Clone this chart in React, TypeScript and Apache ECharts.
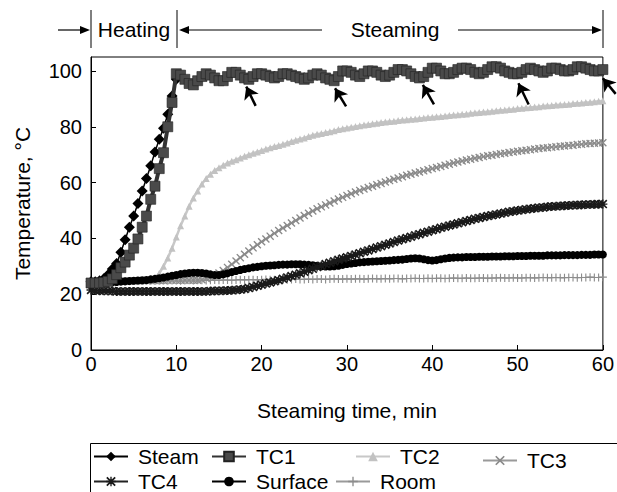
import React, { useEffect, useRef } from "react";
import * as echarts from "echarts";

// Sampling grid: every 0.5 min from 0 to 60 min
const STEP_MIN = 0.5;

const steamTemp = [24.5, 24.5, 24.8, 25.5, 27, 29, 31, 35, 39.5, 44, 48, 52.5, 57, 61.5, 66, 71, 75.5, 79.5, 84.5, 91, 97];

const tc1Temp = [
  24, 24, 24, 24.2, 24.6, 25.5, 27, 29.5, 31.5, 34, 36.5, 39.8, 44, 48, 54, 58.7, 65, 70.7, 80, 88.7, 99,
  98.5, 97, 95.5, 95, 96.5, 98, 99, 98.5, 97.5, 96.5, 96.5, 98, 99.5, 99.5, 98.5, 97.5, 97, 98, 99, 99,
  98.5, 98, 97.5, 98, 99, 99, 98.5, 98, 97.5, 97, 97.5, 98.5, 99, 98.5, 97.5, 97, 96.5, 98, 100, 100,
  99.5, 98.5, 98, 99, 100, 100, 99.5, 98.5, 98, 98.5, 99.5, 100.5, 100.5, 100, 99, 98, 97.5, 98, 99.5, 101,
  101, 100, 99, 99, 99.5, 100.5, 101, 101, 100.5, 99.5, 99, 99.5, 100.5, 101.5, 101.5, 101, 100, 99.5, 99, 99,
  99.5, 100.5, 101, 100.5, 100, 99.5, 100, 101, 101, 100.5, 100, 100, 100.5, 101.5, 101.5, 101, 100.5, 100, 100, 100.5,
];

const tc2Temp = [
  24.5, 24.5, 24.5, 24.5, 24.6, 24.6, 24.7, 24.7, 24.8, 24.8, 24.9, 25, 25, 25.2, 25.5,
  25.9, 27.5, 30, 33, 36.5, 40.5, 44.5, 48, 51.5, 54.5, 57, 59.5, 61.5, 63, 64.3, 65.3, 66.2, 67, 67.6, 68.2,
  68.8, 69.4, 70, 70.5, 71, 71.5, 72, 72.5, 72.9, 73.3, 73.7, 74.2, 74.7, 75.2, 75.6, 76, 76.5, 77, 77.3, 77.6,
  77.9, 78.2, 78.6, 79, 79.3, 79.6, 79.8, 80.1, 80.4, 80.6, 80.8, 81.1, 81.3, 81.5, 81.7, 81.9, 82, 82.2, 82.4, 82.5,
  82.7, 82.8, 83, 83.1, 83.3, 83.4, 83.6, 83.7, 83.9, 84, 84.2, 84.3, 84.5, 84.6, 84.8, 85, 85.1, 85.3, 85.4, 85.6,
  85.7, 85.9, 86, 86.2, 86.3, 86.5, 86.6, 86.8, 86.9, 87.1, 87.2, 87.4, 87.5, 87.6, 87.8, 87.9, 88, 88.1, 88.3, 88.4,
  88.5, 88.7, 88.8, 89, 89.1, 89.3,
];

const tc3Temp = [
  24.5, 24.5, 24.5, 24.5, 24.6, 24.6, 24.6, 24.7, 24.7, 24.7, 24.8, 24.8, 24.8, 24.8, 24.9, 24.9, 24.9, 24.9, 25, 25,
  25, 25, 25, 25, 25, 25,
  25.2, 25.6, 26.1, 26.8, 27.6, 28.5, 29.6, 30.7, 31.9, 33.1, 34.3, 35.5, 36.6, 37.7, 38.8, 39.8, 40.8, 41.8, 42.8, 43.7,
  44.6, 45.5, 46.4, 47.3, 48.2, 49, 49.8, 50.6, 51.3, 52, 52.7, 53.4, 54.1, 54.7, 55.4, 56, 56.6, 57.2, 57.7, 58.2,
  58.7, 59.2, 59.7, 60.2, 60.7, 61.2, 61.6, 62.1, 62.6, 63, 63.4, 63.8, 64.2, 64.6, 65, 65.4, 65.8, 66.2, 66.6, 67,
  67.4, 67.7, 68.1, 68.4, 68.7, 69, 69.3, 69.6, 69.8, 70.1, 70.3, 70.5, 70.8, 71, 71.2, 71.4, 71.6, 71.8, 72, 72.2,
  72.4, 72.5, 72.7, 72.8, 73, 73.1, 73.3, 73.4, 73.6, 73.7, 73.9, 74, 74.1, 74.2, 74.3,
];

const tc4Temp = [
  21.5, 21.3, 21.2, 21.2, 21.1, 21.1, 21, 21, 21, 21, 21, 21, 21, 21, 21, 21, 21, 21, 21, 21,
  21, 21, 21, 21, 21, 21, 21, 21, 21.1, 21.1, 21.2, 21.2, 21.3, 21.4, 21.5, 21.7,
  21.9, 22.2, 22.6, 23, 23.4, 23.8, 24.2, 24.6, 25, 25.5, 26, 26.5, 27, 27.5, 28, 28.6, 29.1, 29.7, 30.2, 30.8,
  31.3, 31.8, 32.3, 32.8, 33.2, 33.7, 34.2, 34.7, 35.2, 35.7, 36.2, 36.7, 37.2, 37.7, 38.2, 38.7, 39.2, 39.7, 40.1, 40.6,
  41.1, 41.5, 42, 42.4, 42.9, 43.3, 43.8, 44.2, 44.6, 45, 45.4, 45.8, 46.2, 46.6, 47, 47.3, 47.7, 48, 48.3, 48.6,
  48.9, 49.2, 49.5, 49.7, 50, 50.2, 50.4, 50.6, 50.8, 51, 51.1, 51.3, 51.4, 51.5, 51.6, 51.7, 51.8, 51.9, 52, 52,
  52.1, 52.1, 52.2, 52.2, 52.3,
];

const surfaceTemp = [
  24, 24, 24, 24.1, 24.2, 24.3, 24.4, 24.5, 24.6, 24.7, 24.8, 24.9, 25, 25.1, 25.3, 25.5, 25.7, 26, 26.3, 26.6,
  26.9, 27.2, 27.4, 27.6, 27.7, 27.7, 27.6, 27.4, 27.1, 26.9, 26.9, 27.1, 27.5, 27.9, 28.3, 28.7, 29, 29.3, 29.6, 29.8,
  30, 30.2, 30.3, 30.4, 30.5, 30.6, 30.6, 30.7, 30.7, 30.7, 30.6, 30.5, 30.4, 30.2, 30, 29.9, 29.9, 30, 30.2, 30.5,
  30.8, 31, 31.2, 31.4, 31.5, 31.6, 31.7, 31.8, 31.9, 32, 32.1, 32.2, 32.3, 32.4, 32.6, 32.8, 32.9, 32.8, 32.5, 32.2,
  32.1, 32.2, 32.5, 32.8, 33, 33.1, 33.2, 33.2, 33.3, 33.3, 33.3, 33.4, 33.4, 33.4, 33.5, 33.5, 33.5, 33.6, 33.6, 33.6,
  33.7, 33.7, 33.7, 33.8, 33.8, 33.8, 33.8, 33.9, 33.9, 33.9, 33.9, 34, 34, 34, 34, 34.1, 34.1, 34.1, 34.2, 34.2,
  34.2,
];

const roomTemp = [
  24.6, 24.6, 24.5, 24.6, 24.7, 24.6, 24.6, 24.7, 24.7, 24.6, 24.7, 24.8, 24.7, 24.8, 24.8, 24.7, 24.8, 24.9, 24.8, 24.9,
  24.9, 24.8, 24.9, 25, 24.9, 25, 25, 24.9, 25, 25.1,
  25, 25.1, 25.1, 25, 25.1, 25.2, 25.1, 25.2, 25.2, 25.1,
  25.2, 25.3, 25.2, 25.2, 25.3, 25.3, 25.2, 25.3, 25.4, 25.3,
  25.3, 25.4, 25.3, 25.4, 25.4, 25.3, 25.4, 25.5, 25.4, 25.4,
  25.5, 25.4, 25.5, 25.5, 25.4, 25.5, 25.6, 25.5, 25.5, 25.6,
  25.5, 25.6, 25.6, 25.5, 25.6, 25.6, 25.7, 25.6, 25.6, 25.7,
  25.6, 25.7, 25.7, 25.6, 25.7, 25.8, 25.7, 25.7, 25.8, 25.7,
  25.7, 25.8, 25.8, 25.7, 25.8, 25.8, 25.9, 25.8, 25.8, 25.9,
  25.8, 25.8, 25.9, 25.9, 25.8, 25.9, 26, 25.9, 25.9, 26,
  25.9, 25.9, 26, 26, 25.9, 26, 26, 26.1, 26, 26,
  26.1,
];

// Arrows marking the dips of TC1: [tail time, tail temp, tip time, tip temp]
const dipArrows = [
  [19.3, 87.5, 18.2, 94.4],
  [29.9, 87.3, 28.6, 93.8],
  [40.2, 88.0, 38.9, 95.0],
  [51.3, 88.0, 50.1, 95.6],
  [61.5, 91.8, 60.0, 97.4],
];

const xTicks = { min: 0, max: 60, interval: 10 };
const yTicks = { min: 0, max: 105, interval: 20 };

const FONT = "Liberation Sans";

const XMARK = "path://M0,1.2L1.2,0L5,3.8L8.8,0L10,1.2L6.2,5L10,8.8L8.8,10L5,6.2L1.2,10L0,8.8L3.8,5Z";
const PLUS = "path://M4.3,0H5.7V4.3H10V5.7H5.7V10H4.3V5.7H0V4.3H4.3Z";
const STAR =
  "path://M0,1.3L1.3,0L5,3.7L8.7,0L10,1.3L6.3,5L10,8.7L8.7,10L5,6.3L1.3,10L0,8.7L3.7,5Z M4.3,0H5.7V4.3H10V5.7H5.7V10H4.3V5.7H0V4.3H4.3Z";

function pairs(vals: number[]) {
  return vals.map((v, i) => [i * STEP_MIN, v]);
}

export default function App() {
  const ref = useRef<HTMLDivElement>(null);
  useEffect(() => {
    if (!ref.current) return;
    const chart = echarts.init(ref.current, undefined, { renderer: "svg" });

    const mk = (
      name: string,
      vals: number[],
      symbol: string,
      size: number,
      fill: string,
      line: string,
      lw: number,
      z: number,
      border?: string
    ) => ({
      name,
      type: "line",
      data: pairs(vals),
      symbol,
      symbolSize: size,
      showAllSymbol: true,
      itemStyle: border ? { color: fill, borderColor: border, borderWidth: 0.6 } : { color: fill },
      lineStyle: { color: line, width: lw },
      z,
      clip: true,
    });

    const legendBase = {
      orient: "horizontal",
      itemWidth: 34,
      itemHeight: 12,
      selectedMode: false,
      padding: 0,
      textStyle: { fontFamily: FONT, fontSize: 21, color: "#000", padding: [0, 0, 0, 5] },
    };
    const leg = (name: string, left: number, top: number) => ({
      ...legendBase,
      data: [name],
      left,
      top,
    });

    const option: any = {
      animation: false,
      backgroundColor: "#fff",
      textStyle: { fontFamily: FONT },
      grid: {
        left: 91,
        right: 14,
        top: 57,
        bottom: 142,
        show: true,
        borderColor: "#000",
        borderWidth: 1,
        backgroundColor: "transparent",
      },
      xAxis: {
        type: "value",
        min: xTicks.min,
        max: xTicks.max,
        interval: xTicks.interval,
        name: "Steaming time, min",
        nameLocation: "middle",
        nameGap: 50,
        nameTextStyle: { fontFamily: FONT, fontSize: 21, color: "#000" },
        axisLine: { lineStyle: { color: "#000", width: 1 } },
        axisTick: { inside: true, length: 5, lineStyle: { color: "#000" } },
        axisLabel: { fontFamily: FONT, fontSize: 20, color: "#000", margin: 4 },
        splitLine: { show: false },
      },
      yAxis: {
        type: "value",
        min: yTicks.min,
        max: yTicks.max,
        interval: yTicks.interval,
        name: "Temperature, °C",
        nameLocation: "middle",
        nameGap: 58,
        nameTextStyle: { fontFamily: FONT, fontSize: 21, color: "#000" },
        axisLine: { lineStyle: { color: "#000", width: 1 } },
        axisTick: { inside: true, length: 5, lineStyle: { color: "#000" } },
        axisLabel: { fontFamily: FONT, fontSize: 20, color: "#000", margin: 9, showMaxLabel: false },
        splitLine: { show: false },
      },
      legend: [
        leg("Steam", 93, 446),
        leg("TC1", 211, 446),
        leg("TC2", 355, 446),
        leg("TC3", 482, 450),
        leg("TC4", 93, 471),
        leg("Surface", 211, 471),
        leg("Room", 335, 471),
      ],
      series: [
        mk("Room", roomTemp, PLUS, 8, "#8c8c8c", "#9a9a9a", 1, 2),
        mk("TC2", tc2Temp, "triangle", 7, "#c2c2c2", "#c8c8c8", 2.5, 3),
        mk("TC3", tc3Temp, XMARK, 8, "#8a8a8a", "#9a9a9a", 1.5, 4),
        mk("Surface", surfaceTemp, "circle", 8, "#000", "#000", 5, 5),
        mk("TC4", tc4Temp, STAR, 9, "#1a1a1a", "#222", 1.5, 6),
        mk("Steam", steamTemp, "diamond", 11, "#000", "#000", 1.5, 7),
        mk("TC1", tc1Temp, "rect", 10, "#4a4a4a", "#333", 4, 8, "#222"),
        {
          type: "lines",
          coordinateSystem: "cartesian2d",
          clip: false,
          z: 10,
          symbol: ["none", "arrow"],
          symbolSize: 12,
          lineStyle: { color: "#000", width: 2.5, opacity: 1 },
          data: dipArrows.map((a) => ({ coords: [[a[0], a[1]], [a[2], a[3]]] })),
        },
      ],
      graphic: [
        // legend box
        { type: "rect", left: 88, top: 441, shape: { width: 540, height: 60 }, style: { fill: "none", stroke: "#000", lineWidth: 1 } },
        // phase annotation
        { type: "line", shape: { x1: 58, y1: 30, x2: 84, y2: 30 }, style: { stroke: "#000", lineWidth: 1.2 } },
        { type: "polygon", shape: { points: [[80, 26], [90, 30], [80, 34]] }, style: { fill: "#000" } },
        { type: "line", shape: { x1: 91, y1: 10, x2: 91, y2: 48 }, style: { stroke: "#000", lineWidth: 1 } },
        { type: "text", x: 134, y: 29, style: { text: "Heating", font: `21px '${FONT}'`, fill: "#000", align: "center", verticalAlign: "middle" } },
        { type: "line", shape: { x1: 177, y1: 10, x2: 177, y2: 48 }, style: { stroke: "#000", lineWidth: 1 } },
        { type: "polygon", shape: { points: [[189, 26], [179, 30], [189, 34]] }, style: { fill: "#000" } },
        { type: "line", shape: { x1: 186, y1: 30, x2: 322, y2: 30 }, style: { stroke: "#000", lineWidth: 1.2 } },
        { type: "text", x: 395, y: 29, style: { text: "Steaming", font: `21px '${FONT}'`, fill: "#000", align: "center", verticalAlign: "middle" } },
        { type: "line", shape: { x1: 458, y1: 30, x2: 594, y2: 30 }, style: { stroke: "#000", lineWidth: 1.2 } },
        { type: "polygon", shape: { points: [[592, 26], [602, 30], [592, 34]] }, style: { fill: "#000" } },
        { type: "line", shape: { x1: 603, y1: 10, x2: 603, y2: 48 }, style: { stroke: "#000", lineWidth: 1 } },
      ],
    };
    chart.setOption(option);
    return () => chart.dispose();
  }, []);

  return (
    <div
      ref={ref}
      style={{ position: "fixed", left: 0, top: 0, width: 617, height: 492, background: "#fff" }}
    />
  );
}
